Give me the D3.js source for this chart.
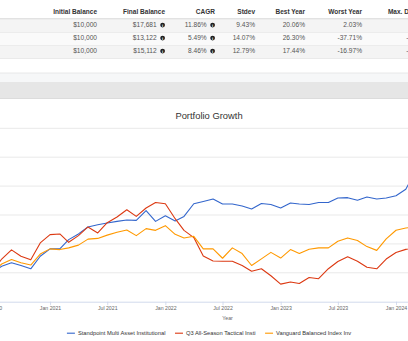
<!DOCTYPE html>
<html>
<head>
<meta charset="utf-8">
<script src="https://cdn.jsdelivr.net/npm/d3@7"></script>
<style>
  html, body { margin: 0; padding: 0; background: #fff; overflow: hidden; }
  svg { display: block; font-family: "Liberation Sans", Arial, sans-serif; }
</style>
</head>
<body>
<div id="page"></div>
<script>
// portfolios compared
var portfolios = ['Standpoint Multi Asset Institutional', 'Q3 All-Season Tactical Insti', 'Vanguard Balanced Index Inv']
var colors = ['#3366cc', '#dc3912', '#ff9900']

// summary statistics
var initialBalance = [10000, 10000, 10000]
var finalBalance = [17681, 13122, 15112]
var cagr = [11.86, 5.49, 8.46]
var stdev = [9.43, 14.07, 12.79]
var bestYear = [20.06, 26.30, 17.44]
var worstYear = [2.03, -37.71, -16.97]
var maxDrawdown = [-5.16, -39.54, -20.79]

// month-start balances, Jul 2020 .. Aug 2024
var firstMonth = new Date(2020, 6, 1)
var lastMonth = new Date(2024, 7, 1)
var standpoint = [
  10000, 10455, 10690, 10503, 10276, 11145,
  11655, 11662, 12297, 12690, 13173, 13331, 13449, 13559, 13655, 13628, 14297, 13559,
  13952, 13586, 13904, 14780, 14938, 15104, 14759, 14759, 14621, 14421, 14800, 14731,
  14483, 14828, 14759, 14724, 14869, 14869, 15173, 15200, 15021, 15242, 15111, 15173,
  15331, 15780, 16987, 17100, 17350, 17500, 17600, 17681
]
var q3AllSeason = [
  10000, 10952, 11586, 11145, 10897, 12069,
  12642, 12690, 12110, 12573, 13173, 12759, 13469, 13862, 14366, 13904, 14483, 14869,
  14780, 13745, 12938, 12435, 11159, 10814, 10800, 10800, 10503, 10110, 10276, 9793,
  9214, 9365, 9262, 9676, 9593, 10283, 10779, 11104, 10800, 10379, 10276, 10952,
  11400, 11621, 11745, 12000, 12400, 12700, 12950, 13122
]
var vanguardBalanced = [
  10000, 10607, 10917, 10690, 10538, 11297,
  11655, 11607, 11724, 11917, 12331, 12379, 12607, 12800, 12966, 12573, 13055, 12938,
  13262, 12662, 12414, 12524, 11655, 11655, 11007, 11724, 11331, 10503, 10966, 11414,
  11021, 11607, 11331, 11628, 11724, 11724, 12179, 12414, 12241, 11814, 11552, 12352,
  12945, 13097, 13180, 13500, 13950, 14400, 14800, 15112
]
var series = [standpoint, q3AllSeason, vanguardBalanced]

var yTicks = [8000, 10000, 12000, 14000, 16000, 18000, 20000]

var W = 408
var H = 341
var svg = d3.select('#page').append('svg').attr('width', W).attr('height', H)

var money = function (v) { return '$' + d3.format(',')(v) }
var pct = function (v) { return v.toFixed(2) + '%' }

// ---------- statistics table ----------
var columns = [
  { title: 'Initial Balance', values: initialBalance, fmt: money, right: 97 },
  { title: 'Final Balance', values: finalBalance, fmt: money, right: 165, info: true },
  { title: 'CAGR', values: cagr, fmt: pct, right: 215, info: true },
  { title: 'Stdev', values: stdev, fmt: pct, right: 255 },
  { title: 'Best Year', values: bestYear, fmt: pct, right: 305 },
  { title: 'Worst Year', values: worstYear, fmt: pct, right: 362 },
  { title: 'Max. Drawdown', values: maxDrawdown, fmt: pct, right: 439, info: true }
]
var rowTop = 19.5
var rowH = 13

var table = svg.append('g')
table.append('line')
  .attr('x1', 0).attr('x2', W).attr('y1', 18.9).attr('y2', 18.9)
  .attr('stroke', '#d9d9d9').attr('stroke-width', 1.3)

portfolios.forEach(function (p, i) {
  table.append('rect')
    .attr('x', 0).attr('y', rowTop + i * rowH + 0.4)
    .attr('width', W).attr('height', rowH - 0.4)
    .attr('fill', i % 2 === 0 ? '#f4f4f4' : '#fafafa')
  table.append('line')
    .attr('x1', 0).attr('x2', W)
    .attr('y1', rowTop + (i + 1) * rowH).attr('y2', rowTop + (i + 1) * rowH)
    .attr('stroke', '#e4e4e4').attr('stroke-width', 0.7)
})

columns.forEach(function (c) {
  var textRight = c.info ? c.right - 8.3 : c.right
  table.append('text')
    .attr('x', c.title === 'Max. Drawdown' ? c.right - 2 : c.right).attr('y', 14)
    .attr('text-anchor', 'end')
    .attr('font-size', 6.5).attr('font-weight', 'bold').attr('fill', '#333')
    .text(c.title)
  c.values.forEach(function (v, i) {
    var base = rowTop + i * rowH + 7.9
    table.append('text')
      .attr('x', textRight).attr('y', base)
      .attr('text-anchor', 'end')
      .attr('font-size', 6.6).attr('fill', '#555')
      .text(c.fmt(v))
    if (c.info) {
      table.append('circle')
        .attr('cx', c.right - 2.4).attr('cy', base - 2.3).attr('r', 2.4)
        .attr('fill', '#1e1e1e')
      table.append('text')
        .attr('x', c.right - 2.4).attr('y', base - 0.7)
        .attr('text-anchor', 'middle')
        .attr('font-size', 4.2).attr('font-weight', 'bold').attr('fill', '#fff')
        .text('i')
    }
  })
})

// panel header strip between the table and the chart
svg.append('rect').attr('x', 0).attr('y', 73).attr('width', W).attr('height', 9).attr('fill', '#f6f7f8')
svg.append('line').attr('x1', 0).attr('x2', W).attr('y1', 73).attr('y2', 73).attr('stroke', '#e3e3e3').attr('stroke-width', 0.8)
svg.append('rect').attr('x', 0).attr('y', 82).attr('width', W).attr('height', 16.5).attr('fill', '#e6e6e6')
svg.append('line').attr('x1', 0).attr('x2', W).attr('y1', 98.5).attr('y2', 98.5).attr('stroke', '#d6d6d6').attr('stroke-width', 0.8)

// ---------- growth chart ----------
var chartLeft = -60
var chartWidth = 538
var plotLeft = chartLeft + 51.9
var plotRight = chartLeft + chartWidth - 14.7
var plotTop = 128.3
var plotBottom = 301.7

var months = d3.timeMonth.range(firstMonth, d3.timeMonth.offset(lastMonth, 1))

var x = d3.scaleTime().domain([firstMonth, lastMonth]).range([plotLeft, plotRight])
var y = d3.scaleLinear().domain([yTicks[0], yTicks[yTicks.length - 1]]).range([plotBottom, plotTop])

var chart = svg.append('g')

chart.append('text')
  .attr('x', chartLeft + chartWidth / 2).attr('y', 119.3)
  .attr('text-anchor', 'middle')
  .attr('font-size', 9.4).attr('fill', '#333')
  .text('Portfolio Growth')

chart.selectAll('line.grid').data(yTicks.slice(1)).enter().append('line')
  .attr('class', 'grid')
  .attr('x1', plotLeft).attr('x2', plotRight)
  .attr('y1', function (d) { return y(d) }).attr('y2', function (d) { return y(d) })
  .attr('stroke', '#e6e6e6').attr('stroke-width', 0.9)

chart.selectAll('text.ylab').data(yTicks).enter().append('text')
  .attr('class', 'ylab')
  .attr('x', plotLeft - 5).attr('y', function (d) { return y(d) + 1.8 })
  .attr('text-anchor', 'end')
  .attr('font-size', 5.2).attr('fill', '#666')
  .text(money)

var xAxis = d3.axisBottom(x)
  .ticks(d3.timeMonth.every(6))
  .tickFormat(d3.timeFormat('%b %Y'))
  .tickSize(3.5)
  .tickSizeOuter(0)
  .tickPadding(1.6)

var gx = chart.append('g').attr('transform', 'translate(0,' + plotBottom + ')').call(xAxis)
gx.select('.domain').attr('stroke', '#ccd6eb').attr('stroke-width', 0.9)
gx.selectAll('.tick line').attr('stroke', '#ccd6eb').attr('stroke-width', 0.8)
gx.selectAll('.tick text')
  .attr('font-size', 5.2).attr('fill', '#666')
  .attr('font-family', '"Liberation Sans", Arial, sans-serif')

chart.append('text')
  .attr('x', (plotLeft + plotRight) / 2).attr('y', 319.6)
  .attr('text-anchor', 'middle')
  .attr('font-size', 5.2).attr('fill', '#666')
  .text('Year')

var line = d3.line()
  .x(function (d, i) { return x(months[i]) })
  .y(function (d) { return y(d) })

series.forEach(function (s, k) {
  chart.append('path')
    .datum(s)
    .attr('d', line)
    .attr('fill', 'none')
    .attr('stroke', colors[k])
    .attr('stroke-width', 1.1)
    .attr('stroke-linejoin', 'round')
})

// legend, centred under the chart
var legend = chart.append('g')
var lx = 0
portfolios.forEach(function (p, k) {
  var g = legend.append('g').attr('transform', 'translate(' + lx + ',0)')
  g.append('line')
    .attr('x1', 0).attr('x2', 8).attr('y1', 333.2).attr('y2', 333.2)
    .attr('stroke', colors[k]).attr('stroke-width', 1.1)
  var t = g.append('text')
    .attr('x', 11).attr('y', 335.3)
    .attr('font-size', 5.75).attr('fill', '#333')
    .text(p)
  lx += 11 + t.node().getComputedTextLength() + 9.5
})
var legendWidth = lx - 9.5
legend.attr('transform', 'translate(' + (chartLeft + chartWidth / 2 - legendWidth / 2) + ',0)')
</script>
</body>
</html>
